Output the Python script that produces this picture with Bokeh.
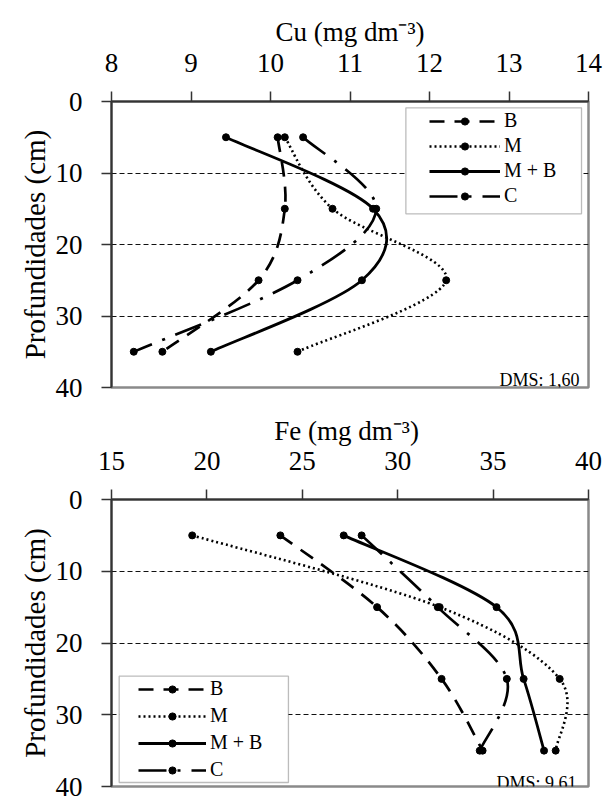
from bokeh.plotting import figure
from bokeh.models import Range1d, FixedTicker, Label, Legend, LegendItem, BoxAnnotation, ColumnDataSource, Title
from bokeh.layouts import column
from bokeh.embed import file_html
from bokeh.resources import INLINE

# ---------------- data ----------------
depth = [5, 15, 25, 35]
series_names = ["B", "M", "M + B", "C"]

cu_B = [10.09, 10.18, 9.85, 8.64]
cu_M = [10.18, 10.78, 12.21, 10.34]
cu_MB = [9.44, 11.29, 11.15, 9.25]
cu_C = [10.41, 11.33, 10.34, 8.28]

fe_B = [23.85, 28.92, 32.30, 34.45]
fe_M = [19.23, 32.20, 38.49, 38.28]
fe_MB = [27.17, 35.18, 36.60, 37.67]
fe_C = [28.11, 32.10, 35.72, 34.30]

cu_ticks = [8, 9, 10, 11, 12, 13, 14]
fe_ticks = [15, 20, 25, 30, 35, 40]
depth_ticks = [0, 10, 20, 30, 40]
grid_depths = [10, 20, 30]

cu_title = "Cu (mg dm\u207b\u00b3)"
fe_title = "Fe  (mg dm\u207b\u00b3)"
y_title = "Profundidades (cm)"
cu_dms = "DMS: 1,60"
fe_dms = "DMS: 9,61"

# ---------------- style ----------------
FONT = "Liberation Serif"
STYLE = {
    "B": dict(line_dash="15 10", line_width=2.7),
    "M": dict(line_dash="2 3", line_width=2.6),
    "M + B": dict(line_dash="solid", line_width=2.8),
    "C": dict(line_dash="28 11 3 11", line_width=2.7),
}
NAN = float("nan")


def bezier_segments(xs, ys):
    px = [xs[0]] + list(xs) + [xs[-1]]
    py = [ys[0]] + list(ys) + [ys[-1]]
    d = dict(x0=[], y0=[], x1=[], y1=[], cx0=[], cy0=[], cx1=[], cy1=[])
    for i in range(len(xs) - 1):
        x0, y0 = px[i + 1], py[i + 1]
        x1, y1 = px[i + 2], py[i + 2]
        d["x0"].append(x0); d["y0"].append(y0)
        d["x1"].append(x1); d["y1"].append(y1)
        d["cx0"].append(x0 + (px[i + 2] - px[i]) / 6.0)
        d["cy0"].append(y0 + (py[i + 2] - py[i]) / 6.0)
        d["cx1"].append(x1 - (px[i + 3] - px[i + 1]) / 6.0)
        d["cy1"].append(y1 - (py[i + 3] - py[i + 1]) / 6.0)
    return ColumnDataSource(d)


def make_panel(values, xr, xticks, title, dms, fig_h, bl, br, bt, bb,
               title_offset, title_standoff, dms_right, dms_base,
               leg_box, leg_loc, leg_glyph_w, leg_spacing):
    W = 606
    fl, fr = bl, W - br
    ft, fb = bt, fig_h - bb

    def dx(px):
        return xr[0] + (px - fl) * (xr[1] - xr[0]) / (fr - fl)

    def dy(py):
        return 0 + (py - ft) * 40.0 / (fb - ft)

    p = figure(width=W, height=fig_h, x_range=Range1d(*xr), y_range=Range1d(40, 0),
               x_axis_location="above", output_backend="svg", toolbar_location=None,
               min_border_left=bl, min_border_right=br, min_border_top=bt, min_border_bottom=bb)
    p.background_fill_color = "white"
    p.border_fill_color = "white"
    p.outline_line_color = "#8a8a8a"
    p.outline_line_width = 2.5

    p.xgrid.visible = False
    p.ygrid.ticker = FixedTicker(ticks=grid_depths)
    p.ygrid.grid_line_color = "#111111"
    p.ygrid.grid_line_width = 1
    p.ygrid.grid_line_dash = "5 3"

    p.xaxis.ticker = FixedTicker(ticks=xticks)
    p.yaxis.ticker = FixedTicker(ticks=depth_ticks)
    for ax in (p.xaxis, p.yaxis):
        ax.axis_line_color = "#333333"
        ax.axis_line_width = 2
        ax.major_tick_line_color = "#333333"
        ax.major_tick_line_width = 1.5
        ax.major_tick_out = 10
        ax.major_tick_in = 0
        ax.minor_tick_line_color = None
        ax.major_label_text_font = FONT
        ax.major_label_text_font_size = "27px"
        ax.major_label_text_color = "black"
    p.xaxis.major_label_standoff = 20
    p.yaxis.major_label_standoff = 19

    items = []
    for name, xs in zip(series_names, values):
        st = STYLE[name]
        p.bezier(x0="x0", y0="y0", x1="x1", y1="y1", cx0="cx0", cy0="cy0", cx1="cx1", cy1="cy1",
                 source=bezier_segments(xs, depth), line_color="black",
                 line_width=st["line_width"], line_dash=st["line_dash"])
        proxy = p.line(x=[NAN], y=[NAN], line_color="black", line_width=st["line_width"],
                       line_dash=st["line_dash"])
        sc = p.scatter(x=xs, y=depth, marker="circle", size=7, fill_color="black",
                       line_color="black")
        items.append(LegendItem(label=name, renderers=[proxy, sc]))

    # legend frame
    lb = leg_box
    p.add_layout(BoxAnnotation(left=dx(lb[0]), right=dx(lb[1]), top=dy(lb[2]), bottom=dy(lb[3]),
                               fill_color="white", fill_alpha=1, line_color="#222222",
                               line_width=1.3))
    leg = Legend(items=items, location=leg_loc, padding=0, margin=0,
                 glyph_width=leg_glyph_w, glyph_height=18, label_height=23, spacing=leg_spacing,
                 label_standoff=4, label_text_font=FONT, label_text_font_size="20px",
                 label_text_color="black", border_line_color=None, background_fill_alpha=0)
    p.add_layout(leg)

    # x title (above the top axis)
    p.add_layout(Title(text=title, align="center", offset=title_offset, standoff=title_standoff,
                       text_font=FONT, text_font_size="27px", text_font_style="normal",
                       text_color="black"), "above")
    # y title
    p.add_layout(Title(text=y_title, align="center", offset=13, standoff=4,
                       text_font=FONT, text_font_size="29px",
                       text_font_style="normal", text_color="black"), "left")

    # DMS
    p.add_layout(Label(x=dx(dms_right), y=dy(dms_base), text=dms, text_align="right",
                       text_baseline="alphabetic", text_font=FONT, text_font_size="18px",
                       text_color="black"))
    return p


p1 = make_panel([cu_B, cu_M, cu_MB, cu_C], (8, 14), cu_ticks, cu_title, cu_dms,
                fig_h=404, bl=111, br=17, bt=101, bb=17,
                title_offset=-2, title_standoff=8,
                dms_right=580, dms_base=379.3,
                leg_box=(406, 582, 107.3, 213.3), leg_loc=(318, 180),
                leg_glyph_w=71, leg_spacing=2)

p2 = make_panel([fe_B, fe_M, fe_MB, fe_C], (15, 40), fe_ticks, fe_title, fe_dms,
                fig_h=397, bl=110, br=18, bt=95, bb=15,
                title_offset=10, title_standoff=5,
                dms_right=576, dms_base=378,
                leg_box=(117.7, 287.3, 271.7, 378), leg_loc=(27, 5),
                leg_glyph_w=68, leg_spacing=4)

layout = column(p1, p2, spacing=0)
open("out.html", "w").write(file_html(layout, INLINE))
